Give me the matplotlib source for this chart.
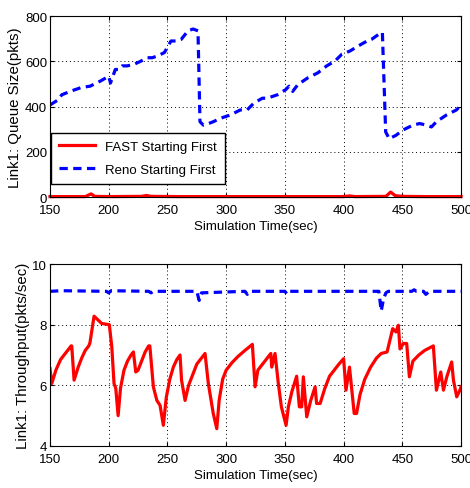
import matplotlib
matplotlib.use("Agg")
import matplotlib.pyplot as plt

plt.rcParams['font.family'] = ['Liberation Sans', 'DejaVu Sans']

# ---- Top: queue size ----
reno_q_t = [150, 157, 160, 167, 177, 184, 192.6, 200, 201.5, 205.6, 208.5, 211.5, 215.8, 221.6, 227, 233, 237,
            241.7, 247.4, 253, 257.5, 261.7, 267.5, 271.8, 276, 277.7, 280.6, 285, 289, 295, 303.6, 312, 317.8,
            323.5, 330.8, 335, 343.5, 350.7, 353.5, 356.6, 361, 369.5, 378, 385.6, 392.6, 398.4, 405.5, 412.8,
            420, 424, 430, 433, 435.8, 438.8, 444.6, 450.4, 459, 464.7, 470.5, 474.8, 479, 487.6, 496, 500]
reno_q = [407, 430, 452, 467, 485, 490, 512, 534, 504, 564, 564, 580, 580, 587, 600, 616, 616,
          624, 639, 690, 690, 697, 735, 743, 735, 333, 318, 325, 333, 348, 363, 385, 385,
          415, 437, 437, 452, 475, 490, 467, 497, 527, 549, 580, 601, 631, 646, 669,
          690, 698, 720, 728, 288, 258, 273, 296, 318, 325, 318, 310, 333, 363, 385, 407]

fast_q_t = [150, 180, 185, 188, 200, 228, 232, 236, 260, 300, 400, 405, 410, 436, 440, 444, 450, 470, 500]
fast_q = [2, 2, 14, 3, 2, 3, 7, 3, 2, 2, 2, 5, 2, 3, 22, 6, 3, 2, 2]

# ---- Bottom: throughput ----
fast_tp_t = [150, 151.5, 155, 159, 163, 166, 168, 168.5, 170.5, 174, 177, 180, 183, 184, 187.5, 189.7, 194,
             200.5, 202.6, 204.5, 206, 208, 210, 213, 216, 219, 221, 223, 225, 228, 231, 234, 235, 238, 241,
             243.7, 246.5, 249, 252, 255, 258, 260.7, 262, 265, 268, 272, 275, 279, 282, 284.8, 289, 292,
             294, 297, 300, 305, 310, 316, 322.3, 324.6, 327, 331, 335, 338, 338.8, 341.6, 344.4, 347, 351,
             353, 356, 360, 362.3, 364.3, 365.7, 368.6, 372, 375.7, 377, 380, 384, 388, 392, 396, 400,
             402, 405, 409, 411, 414, 418, 423, 428, 432, 437, 441.8, 444.6, 446.6, 448, 450.9, 453.7,
             456, 459, 464, 469, 476.4, 479, 482.7, 485, 488, 492, 493.5, 496.3, 499, 500]
fast_tp = [6.55, 6.06, 6.5, 6.85, 7.05, 7.2, 7.3, 7.3, 6.17, 6.6, 6.9, 7.15, 7.3, 7.4, 8.28, 8.2, 8.04,
           8.0, 7.27, 6.06, 5.9, 5.0, 5.9, 6.5, 6.8, 7.0, 7.1, 6.44, 6.5, 6.8, 7.1, 7.3, 7.3, 5.95, 5.5,
           5.34, 4.68, 5.6, 6.2, 6.6, 6.85, 7.0, 6.17, 5.5, 6.0, 6.4, 6.7, 6.9, 7.05, 6.06, 5.07, 4.57,
           5.5, 6.2, 6.5, 6.75, 6.95, 7.15, 7.35, 5.95, 6.5, 6.7, 6.9, 7.05, 6.6, 7.05, 6.06, 5.29, 4.68,
           5.3, 5.8, 6.3, 5.29, 5.29, 6.28, 4.96, 5.5, 5.95, 5.4, 5.4, 5.9, 6.3, 6.5, 6.7, 6.88,
           5.84, 6.6, 5.07, 5.07, 5.7, 6.2, 6.6, 6.9, 7.05, 7.1, 7.87, 7.76, 7.98, 7.2, 7.38, 7.38,
           6.28, 6.8, 7.0, 7.15, 7.3, 5.84, 6.44, 5.84, 6.3, 6.77, 6.17, 5.62, 5.84, 5.95]

reno_tp_t = [150, 160, 198, 200, 202, 234, 236, 238, 275, 277, 279, 316, 318, 320, 350, 352, 354,
             430, 432, 434, 436, 438, 458, 460, 462, 468, 470, 473, 500]
reno_tp = [9.1, 9.12, 9.1, 9.05, 9.12, 9.1, 9.05, 9.1, 9.1, 8.8, 9.05, 9.1, 9.0, 9.1, 9.1, 9.0, 9.1,
           9.1, 8.45, 8.85, 9.05, 9.1, 9.1, 9.15, 9.1, 9.1, 9.0, 9.1, 9.1]

x_ticks = [150, 200, 250, 300, 350, 400, 450, 500]
q_ticks = [0, 200, 400, 600, 800]
tp_ticks = [4, 6, 8, 10]

fig = plt.figure(figsize=(4.70, 4.89), dpi=100)
ax1 = fig.add_axes([0.1064, 0.595, 0.8746, 0.370])
ax2 = fig.add_axes([0.1064, 0.086, 0.8746, 0.372])

fs = 9.5
fs_y = 10.8
dash = (0, (2.6, 1.7))
for ax in (ax1, ax2):
    ax.grid(True, linestyle=(0, (1, 3)), color='black', linewidth=0.7)
    ax.tick_params(direction='in', labelsize=fs, length=3, top=True, right=True)
    ax.tick_params(axis='x', pad=5)
    ax.tick_params(axis='y', pad=2)
    ax.set_xlim(150, 500)
    ax.set_xticks(x_ticks)
    ax.set_xlabel('Simulation Time(sec)', fontsize=fs, labelpad=3)
    for s in ax.spines.values():
        s.set_linewidth(0.8)

ax1.plot(fast_q_t, fast_q, color='red', linewidth=2.3, label='FAST Starting First', clip_on=False)
ax1.plot(reno_q_t, reno_q, color='blue', linewidth=2.3, linestyle=dash, label='Reno Starting First')
ax1.set_ylim(0, 800)
ax1.set_yticks(q_ticks)
ax1.set_ylabel('Link1: Queue Size(pkts)', fontsize=fs_y, labelpad=2)
leg = ax1.legend(loc='lower left', bbox_to_anchor=(0.0, 0.066), fontsize=fs, fancybox=False,
                 framealpha=1, edgecolor='black', handlelength=2.7, borderpad=0.6, labelspacing=0.8,
                 borderaxespad=0.1)
leg.get_frame().set_linewidth(1.0)

ax2.plot(fast_tp_t, fast_tp, color='red', linewidth=2.3)
ax2.plot(reno_tp_t, reno_tp, color='blue', linewidth=2.3, linestyle=dash)
ax2.set_ylim(4, 10)
ax2.set_yticks(tp_ticks)
ax2.set_ylabel('Link1: Throughput(pkts/sec)', fontsize=fs_y, labelpad=2)

fig.savefig('out.png', dpi=100)
